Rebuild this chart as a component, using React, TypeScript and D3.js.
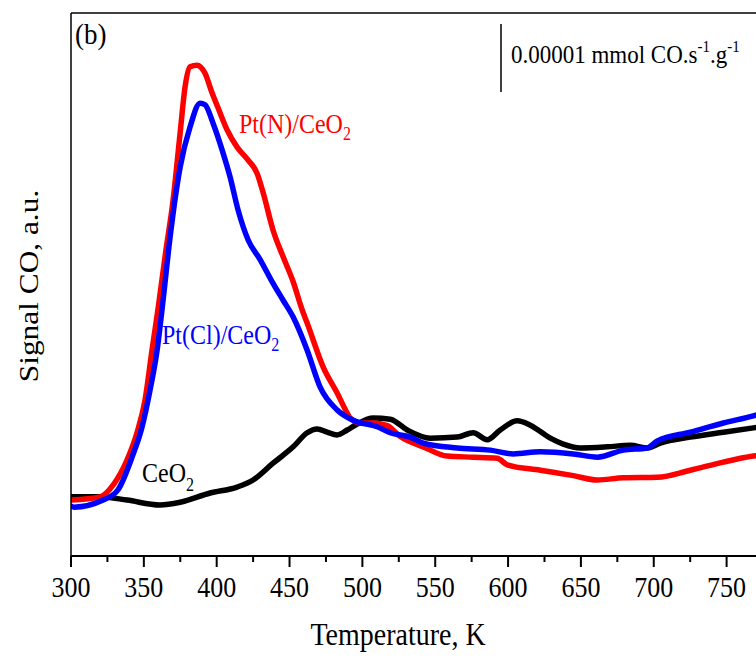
import React from "react";
import * as d3 from "d3";

// Temperature (K) and CO signal (a.u.)
const ptNTemp = [300, 320, 329, 338.5, 345.3, 350.8, 355.6, 360, 365, 370.1, 374.9, 378.3, 381.7, 386.5, 392, 396.8, 401, 407.1, 414, 421.6, 427.7, 431.9, 438.7, 445.6, 452.5, 458.7, 462.1, 473.1, 482.7, 489.6, 491.6, 498.5, 507.4, 517, 526, 541.8, 558.2, 576.1, 592.6, 599.4, 622.1, 644.8, 661.3, 679.1, 702.5, 725.1, 747.8, 768.4, 771];
const ptNSignal = [10.3, 10.9, 13.1, 17.7, 22.7, 28.7, 37.9, 46, 56, 65.6, 77.9, 86.4, 90.1, 90.4, 88.9, 85.3, 82.5, 78.5, 75.3, 72.9, 70.5, 66.9, 60.0, 55.1, 50.5, 45.3, 42.9, 34.8, 30.0, 26.3, 25.4, 24.5, 24.5, 24.0, 22.0, 20.1, 18.4, 18.2, 18.0, 16.8, 15.8, 14.8, 14.0, 14.4, 14.5, 15.8, 17.3, 18.4, 18.5];

const ptClTemp = [300, 302, 322, 332.3, 341.9, 348.8, 354.3, 359.1, 363.2, 368, 374.9, 381.7, 388.6, 392, 397.5, 403.7, 409.2, 414.7, 421.6, 429.8, 438.7, 445.6, 452.5, 462.1, 471, 482.7, 493.7, 510.2, 519.1, 532.8, 541.8, 565.1, 587.8, 603.6, 622.1, 644.8, 661.3, 679.1, 695.6, 702.5, 725.1, 747.8, 768.4, 771];
const ptClSignal = [9.2, 9.0, 10.3, 12.2, 18.2, 23.8, 30.6, 37.9, 47.1, 58.7, 71.6, 79.0, 83.4, 83.1, 79.7, 74.8, 69.8, 63.7, 58.2, 54.6, 50.2, 47.1, 44.0, 37.9, 31.1, 26.9, 25.0, 23.8, 22.7, 21.9, 20.8, 19.9, 19.5, 18.8, 19.2, 18.8, 18.2, 19.5, 19.9, 21.2, 22.8, 24.5, 25.8, 26.0];

const ceTemp = [300, 320, 338.5, 361.1, 374.9, 395.5, 414, 425, 438.7, 452.5, 462.1, 469, 475.8, 482.7, 489.6, 496.4, 507.4, 519.1, 530.8, 546.6, 565.1, 576.1, 585.7, 594.6, 606.3, 615.2, 629, 637.9, 649.6, 668.1, 683.9, 695.6, 704.5, 725.1, 747.8, 768.4, 771];
const ceSignal = [10.9, 10.9, 10.3, 9.4, 9.9, 11.6, 12.7, 14.0, 17.1, 20.1, 22.7, 23.4, 22.8, 22.3, 23.2, 24.3, 25.4, 25.2, 23.2, 21.7, 21.9, 22.7, 21.4, 23.2, 24.9, 24.1, 21.7, 20.6, 19.9, 20.1, 20.4, 19.9, 20.8, 21.9, 22.8, 23.6, 23.7];

const xTickValues = [300, 350, 400, 450, 500, 550, 600, 650, 700, 750];
const xMinorTickValues = [325, 375, 425, 475, 525, 575, 625, 675, 725];

const W = 756;
const H = 657;
const left = 71;
const top = 13;
const bottom = 556;
const right = 756;
const FONT = "'Liberation Serif', 'Times New Roman', serif";
const SY = 1.12; // vertical glyph stretch seen in the reference

export default function App() {
  const x = d3.scaleLinear().domain([300, 750]).range([left, 726.6]);
  const y = d3.scaleLinear().domain([0, 100]).range([bottom, bottom - 543]);
  const line = d3
    .line<[number, number]>()
    .x((d) => x(d[0]))
    .y((d) => y(d[1]))
    .curve(d3.curveMonotoneX);
  const mk = (t: number[], s: number[]) => line(t.map((v, i) => [v, s[i]] as [number, number])) || "";

  const series = [
    { t: ceTemp, s: ceSignal, color: "#000000" },
    { t: ptNTemp, s: ptNSignal, color: "#ff0000" },
    { t: ptClTemp, s: ptClSignal, color: "#0000ff" },
  ];

  const tr = (tx: number, ty: number) => `translate(${tx},${ty}) scale(1,${SY})`;

  return (
    <svg
      width={W}
      height={H}
      style={{ position: "absolute", left: 0, top: 0, background: "#fff" }}
      fontFamily={FONT}
    >
      <defs>
        <clipPath id="plotclip">
          <rect x={left} y={top} width={right - left} height={bottom - top} />
        </clipPath>
      </defs>
      <rect x={0} y={0} width={W} height={H} fill="#fff" />
      <g clipPath="url(#plotclip)">
        {series.map((sr, i) => (
          <path
            key={i}
            d={mk(sr.t, sr.s)}
            fill="none"
            stroke={sr.color}
            strokeWidth={5.5}
            strokeLinejoin="round"
            strokeLinecap="round"
          />
        ))}
      </g>
      {/* frame */}
      <line x1={left} y1={top} x2={right} y2={top} stroke="#000" strokeWidth={1.5} />
      <line x1={left} y1={top} x2={left} y2={bottom} stroke="#000" strokeWidth={1.5} />
      <line x1={left} y1={bottom} x2={right} y2={bottom} stroke="#000" strokeWidth={2} />
      {xTickValues.map((v) => (
        <g key={v}>
          <line x1={x(v)} x2={x(v)} y1={bottom} y2={bottom + 11} stroke="#000" strokeWidth={2} />
          <text transform={tr(x(v), 597)} textAnchor="middle" fontSize={26} fill="#000">
            {v}
          </text>
        </g>
      ))}
      {xMinorTickValues.map((v) => (
        <line key={v} x1={x(v)} x2={x(v)} y1={bottom} y2={bottom + 6} stroke="#000" strokeWidth={2} />
      ))}
      <text transform={tr(398, 645)} textAnchor="middle" fontSize={28} fill="#000">
        Temperature, K
      </text>
      <text transform={`translate(38,286) rotate(-90) scale(${SY},1)`} textAnchor="middle" fontSize={28} fill="#000">
        Signal CO, a.u.
      </text>
      <text transform={tr(75, 44)} fontSize={27} fill="#000">
        (b)
      </text>
      {/* scale bar */}
      <line x1={501} x2={501} y1={24} y2={92} stroke="#000" strokeWidth={1.5} />
      <text transform={tr(511, 63)} fontSize={23} fill="#000">
        0.00001 mmol CO.s
        <tspan fontSize={15} dy={-10}>-1</tspan>
        <tspan dy={10}>.g</tspan>
        <tspan fontSize={15} dy={-10}>-1</tspan>
      </text>
      {/* labels */}
      <text transform={tr(239, 133)} fontSize={24} fill="#ff0000">
        Pt(N)/CeO<tspan fontSize={16} dy={6}>2</tspan>
      </text>
      <text transform={tr(162, 344)} fontSize={24} fill="#0000ff">
        Pt(Cl)/CeO<tspan fontSize={16} dy={6}>2</tspan>
      </text>
      <text transform={tr(142, 482)} fontSize={24} fill="#000">
        CeO<tspan fontSize={16} dy={8}>2</tspan>
      </text>
    </svg>
  );
}
